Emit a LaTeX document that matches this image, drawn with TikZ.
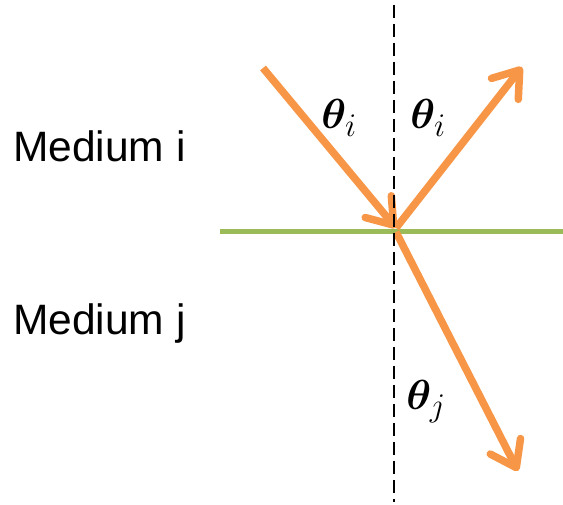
\RequirePackage{fix-cm}
\documentclass[tikz,border=0pt]{standalone}
\usepackage{fontspec}
\setmainfont{Liberation Sans}
\usepackage{bm}
\DeclareMathSizes{42}{42}{33}{26}
\usetikzlibrary{arrows.meta}
\definecolor{rayorange}{HTML}{F79646}
\definecolor{bordergreen}{HTML}{9BBB59}
\tikzset{
  ray/.style={draw=rayorange, line width=7.5pt,
    -{Straight Barb[length=24pt,width=34pt,round]}},
  normal/.style={draw=black, line width=2pt, dash pattern=on 13pt off 6pt},
  surface/.style={draw=bordergreen, line width=5pt},
  mediumlabel/.style={font=\fontsize{42.5}{50}\selectfont, anchor=west, inner sep=0pt},
  anglelabel/.style={font=\fontsize{42}{50}\selectfont, inner sep=0pt}
}
\begin{document}
\begin{tikzpicture}[x=1pt,y=-1pt]
\useasboundingbox (0,0) rectangle (563,505);
\coordinate (nt) at (394,5);
\coordinate (nb) at (394,502);
\coordinate (sl) at (220,232);
\coordinate (sr) at (563,232);
\coordinate (in0) at (263,68);
\coordinate (hit) at (396,228);
\coordinate (out0) at (396,232);
\coordinate (refl) at (522,67);
\coordinate (refr) at (518,471);
\draw[surface] (sl) -- (sr);
\draw[ray] (in0) -- (hit);
\draw[ray] (hit) -- (refl);
\draw[ray] (out0) -- (refr);
\draw[normal] (nt) -- (nb);
\node[mediumlabel] (mi) at (13,146) {Medium i};
\node[mediumlabel] (mj) at (13,324) {Medium j};
\node[anglelabel] (ti1) at (339,118) {$\bm{\theta}_i$};
\node[anglelabel] (ti2) at (428,118) {$\bm{\theta}_i$};
\node[anglelabel] (tj) at (426,402) {$\bm{\theta}_j$};
\end{tikzpicture}
\end{document}
